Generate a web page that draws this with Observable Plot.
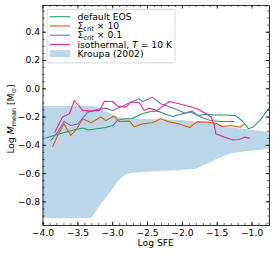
<!DOCTYPE html>
<html><head><meta charset="utf-8">
<script src="https://cdn.jsdelivr.net/npm/d3@7"></script>
<script src="https://cdn.jsdelivr.net/npm/@observablehq/plot@0.6"></script>
<style>body{margin:0;background:#fff} svg{display:block}</style>
</head><body><div id="chart"></div>
<script>
// ---- data ----
const seriesNames = ["default EOS", "Σcrit × 10", "Σcrit × 0.1", "isothermal, T = 10 K"];
const seriesColors = ["#1b9e77", "#d95f02", "#7570b3", "#e7298a"];

const defaultX = [-3.96,-3.82,-3.68,-3.53,-3.43,-3.35,-3.25,-3.10,-3.00,-2.93,-2.86,-2.72,-2.57,-2.43,-2.34,-2.24,-2.14,-2.03,-1.88,-1.77,-1.67,-1.53,-1.38,-1.24,-1.14,-1.05,-0.98,-0.88,-0.80,-0.75];
const defaultY = [-0.348,-0.327,-0.307,-0.288,-0.277,-0.291,-0.284,-0.274,-0.26,-0.224,-0.214,-0.21,-0.175,-0.157,-0.16,-0.18,-0.196,-0.18,-0.164,-0.19,-0.18,-0.185,-0.185,-0.19,-0.228,-0.283,-0.268,-0.22,-0.165,-0.135];

const sigma10X = [-3.86,-3.79,-3.70,-3.60,-3.53,-3.43,-3.31,-3.17,-3.10,-2.98,-2.91,-2.76,-2.69,-2.57,-2.43,-2.31,-2.19,-2.05,-1.90,-1.79,-1.64,-1.50,-1.43,-1.31,-1.17,-1.12];
const sigma10Y = [-0.408,-0.33,-0.248,-0.33,-0.295,-0.212,-0.24,-0.2,-0.224,-0.194,-0.231,-0.229,-0.27,-0.248,-0.24,-0.212,-0.234,-0.248,-0.274,-0.234,-0.236,-0.248,-0.267,-0.26,-0.272,-0.252];

const sigma01X = [-3.89,-3.79,-3.70,-3.60,-3.50,-3.36,-3.22,-3.10,-3.00,-2.86,-2.76,-2.62,-2.57,-2.50,-2.43,-2.31,-2.17,-2.07,-1.97,-1.86,-1.74,-1.60,-1.45,-1.26];
const sigma01Y = [-0.366,-0.307,-0.231,-0.26,-0.248,-0.165,-0.146,-0.137,-0.153,-0.123,-0.099,-0.071,-0.09,-0.076,-0.059,-0.106,-0.13,-0.149,-0.172,-0.158,-0.2,-0.224,-0.231,-0.231];

const isoX = [-3.83,-3.72,-3.62,-3.55,-3.43,-3.31,-3.19,-3.12,-3.00,-2.93,-2.81,-2.74,-2.62,-2.55,-2.48,-2.36,-2.19,-2.05,-1.90,-1.79,-1.66,-1.59,-1.54,-1.52,-1.40,-1.28,-1.18,-1.11,-1.04];
const isoY = [-0.307,-0.2,-0.177,-0.083,-0.153,-0.158,-0.153,-0.088,-0.09,-0.123,-0.13,-0.095,-0.095,-0.153,-0.137,-0.153,-0.09,-0.106,-0.125,-0.141,-0.177,-0.2,-0.26,-0.318,-0.342,-0.361,-0.359,-0.342,-0.349];

const kroupaX    = [-4.0,-3.3,-3.22,-3.15,-3.08,-3.0,-2.94,-2.88,-2.82,-2.74,-2.5,-2.0,-1.8,-1.5,-1.3,-1.0,-0.75];
const kroupaLow  = [-0.918,-0.918,-0.86,-0.81,-0.767,-0.715,-0.672,-0.64,-0.613,-0.6,-0.59,-0.578,-0.57,-0.5,-0.46,-0.44,-0.43];
const kroupaHigh = [-0.125,-0.125,-0.133,-0.148,-0.165,-0.185,-0.198,-0.206,-0.21,-0.213,-0.218,-0.224,-0.235,-0.255,-0.275,-0.293,-0.31];
const kroupaLabel = "Kroupa (2002)";

const xTicks = [-4.0,-3.5,-3.0,-2.5,-2.0,-1.5,-1.0];
const yTicks = [-0.8,-0.6,-0.4,-0.2,0.0,0.2,0.4];
const xMinor = d3.range(-40, -7).map(d => d / 10);
const yMinor = d3.range(-19, 12).map(d => d / 20);
const xLabel = "Log SFE";

// ---- build tables ----
const seriesX = [defaultX, sigma10X, sigma01X, isoX];
const seriesY = [defaultY, sigma10Y, sigma01Y, isoY];
const lineData = seriesNames.flatMap((name, k) => seriesX[k].map((x, i) => ({x, y: seriesY[k][i], name})));
const band = kroupaX.map((x, i) => ({x, lo: kroupaLow[i], hi: kroupaHigh[i]}));

const W = 274, H = 254, mT = 5, mR = 5, mB = 29, mL = 42.5;
const iW = W - mL - mR, iH = H - mT - mB;
const FONT = "9.2px";

const svg = Plot.plot({
  width: W, height: H,
  marginTop: mT, marginRight: mR, marginBottom: mB, marginLeft: mL,
  style: {fontFamily: "'DejaVu Sans', sans-serif", fontSize: FONT, color: "#000", background: "#fff", overflow: "visible"},
  x: {domain: [-4.0, -0.75]},
  y: {domain: [-0.967, 0.589]},
  color: {domain: seriesNames, range: seriesColors},
  marks: [
    Plot.areaY(band, {x: "x", y1: "lo", y2: "hi", fill: "#bcd6e9"}),
    Plot.line(lineData, {x: "x", y: "y", z: "name", stroke: "name", strokeWidth: 1.1}),
    // inward major ticks on all four sides
    Plot.tickX(xTicks, {x: d => d, insetTop: iH - 3.5, stroke: "#000", strokeWidth: 0.8}),
    Plot.tickX(xTicks, {x: d => d, insetBottom: iH - 3.5, stroke: "#000", strokeWidth: 0.8}),
    Plot.tickY(yTicks, {y: d => d, insetRight: iW - 3.5, stroke: "#000", strokeWidth: 0.8}),
    Plot.tickY(yTicks, {y: d => d, insetLeft: iW - 3.5, stroke: "#000", strokeWidth: 0.8}),
    // inward minor ticks
    Plot.tickX(xMinor, {x: d => d, insetTop: iH - 2, stroke: "#000", strokeWidth: 0.6}),
    Plot.tickX(xMinor, {x: d => d, insetBottom: iH - 2, stroke: "#000", strokeWidth: 0.6}),
    Plot.tickY(yMinor, {y: d => d, insetRight: iW - 2, stroke: "#000", strokeWidth: 0.6}),
    Plot.tickY(yMinor, {y: d => d, insetLeft: iW - 2, stroke: "#000", strokeWidth: 0.6}),
    Plot.frame({stroke: "#000", strokeWidth: 0.8}),
    Plot.axisX({ticks: xTicks, tickSize: 0, tickPadding: 3.5, tickFormat: d3.format(".1f"), label: null}),
    Plot.axisY({ticks: yTicks, tickSize: 0, tickPadding: 3, tickFormat: d3.format(".1f"), label: null})
  ]
});

const s = d3.select(svg);

// x label
s.append("text").attr("x", mL + iW / 2).attr("y", 245.5).attr("text-anchor", "middle")
  .attr("fill", "#000").style("font-size", FONT).text(xLabel);

// y label with subscripts
const yl = s.append("text").attr("transform", `translate(14,119) rotate(-90)`).attr("text-anchor", "middle")
  .attr("fill", "#000").style("font-size", FONT);
yl.append("tspan").text("Log ");
yl.append("tspan").attr("font-style", "italic").text("M");
yl.append("tspan").attr("dy", 2).style("font-size", "6.5px").text("mean");
yl.append("tspan").attr("dy", -2).text(" [M");
yl.append("tspan").attr("dy", 2).style("font-size", "6.5px").text("⊙");
yl.append("tspan").attr("dy", -2).text("]");

// legend
const lg = s.append("g").attr("text-anchor", "start");
lg.append("rect").attr("x", 47).attr("y", 9.3).attr("width", 128).attr("height", 53.5).attr("rx", 2)
  .attr("fill", "#fff").attr("fill-opacity", 0.8).attr("stroke", "#cccccc").attr("stroke-width", 0.8);
const rowY = [16.7, 26, 35.2, 44.4, 53.6];
seriesNames.forEach((name, i) => {
  lg.append("line").attr("x1", 50).attr("x2", 70).attr("y1", rowY[i]).attr("y2", rowY[i])
    .attr("stroke", seriesColors[i]).attr("stroke-width", 1.1);
  const t = lg.append("text").attr("x", 77.5).attr("y", rowY[i]).attr("dy", "0.35em")
    .attr("text-anchor", "start").attr("fill", "#000").style("font-size", FONT);
  if (name.startsWith("Σcrit")) {
    t.append("tspan").text("Σ");
    t.append("tspan").attr("dy", 2).style("font-size", "6.5px").text("crit");
    t.append("tspan").attr("dy", -2).text(name.slice(5));
  } else if (name.startsWith("isothermal")) {
    t.append("tspan").text("isothermal, ");
    t.append("tspan").attr("font-style", "italic").text("T");
    t.append("tspan").text(" = 10 K");
  } else {
    t.text(name);
  }
});
lg.append("rect").attr("x", 50).attr("y", rowY[4] - 3.5).attr("width", 20).attr("height", 7).attr("fill", "#bcd6e9");
lg.append("text").attr("x", 77.5).attr("y", rowY[4]).attr("dy", "0.35em").attr("text-anchor", "start")
  .attr("fill", "#000").style("font-size", FONT).text(kroupaLabel);

document.getElementById("chart").appendChild(svg);
</script>
</body></html>
